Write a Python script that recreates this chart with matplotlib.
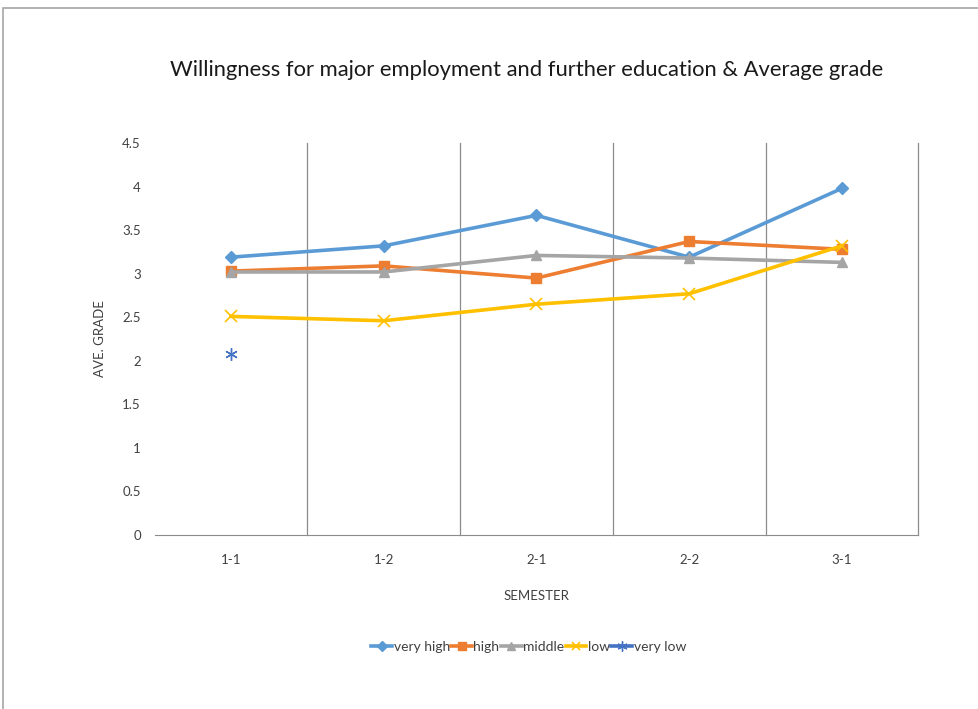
import matplotlib.pyplot as plt
from matplotlib.patches import Rectangle

plt.rcParams['font.family'] = ['Lato', 'DejaVu Sans']

# semesters and average grade per willingness group
semesters = ["1-1", "1-2", "2-1", "2-2", "3-1"]
very_high = [3.19, 3.32, 3.67, 3.19, 3.98]
high = [3.03, 3.09, 2.95, 3.37, 3.28]
middle = [3.02, 3.02, 3.21, 3.18, 3.13]
low = [2.51, 2.46, 2.65, 2.77, 3.32]
very_low = [2.08]

fig = plt.figure(figsize=(9.79, 7.09), dpi=100)
ax = fig.add_axes([0.158, 0.2454, 0.78, 0.5528])

# chart frame
fig.patches.append(Rectangle((3 / 979, -0.1), 1.1, 1 - 8 / 709 + 0.1, transform=fig.transFigure,
                             fill=False, edgecolor="#a6a6a6", linewidth=1.2))

x = list(range(len(semesters)))
ax.plot(x, very_high, color="#5B9BD5", lw=2.6, marker="D", ms=6, label="very high")
ax.plot(x, high, color="#ED7D31", lw=2.6, marker="s", ms=7, label="high")
ax.plot(x, middle, color="#A5A5A5", lw=2.6, marker="^", ms=7, label="middle")
ax.plot(x, low, color="#FFC000", lw=2.6, marker="x", ms=8, mew=1.2, label="low")
ax.plot(x[:len(very_low)], very_low, color="#4472C4", lw=2.6, marker=(6, 2, 0), ms=9, mew=1,
        label="very low")

ax.set_xlim(-0.5, 4.5)
ax.set_ylim(0, 4.5)
ax.set_yticks([0, 0.5, 1, 1.5, 2, 2.5, 3, 3.5, 4, 4.5])
ax.set_yticklabels(["0", "0.5", "1", "1.5", "2", "2.5", "3", "3.5", "4", "4.5"])
ax.set_xticks(x)
ax.set_xticklabels(semesters)

# vertical gridlines between categories
for b in [0.5, 1.5, 2.5, 3.5, 4.5]:
    ax.axvline(b, color="#8c8c8c", lw=0.9, zorder=0, clip_on=False)

for s in ["top", "right", "left"]:
    ax.spines[s].set_visible(False)
ax.spines["bottom"].set_color("#8c8c8c")
ax.tick_params(length=0, labelsize=9.5, colors="#404040")
ax.tick_params(axis="x", pad=14)
ax.tick_params(axis="y", pad=10)

ax.set_xlabel("SEMESTER", fontsize=9.5, color="#404040", labelpad=17)
ax.set_ylabel("AVE. GRADE", fontsize=9.5, color="#404040", labelpad=12)
fig.text(0.538, 0.901, "Willingness for major employment and further education & Average grade",
         ha="center", va="center", fontsize=15.8, color="#1a1a1a")

fig.legend(loc="center", bbox_to_anchor=(0.54, 0.087), ncol=5, frameon=False, fontsize=10,
           handlelength=1.5, handletextpad=0.1, columnspacing=0.1, markerscale=0.8,
           labelcolor="#404040")

fig.savefig("out.png", dpi=100)
